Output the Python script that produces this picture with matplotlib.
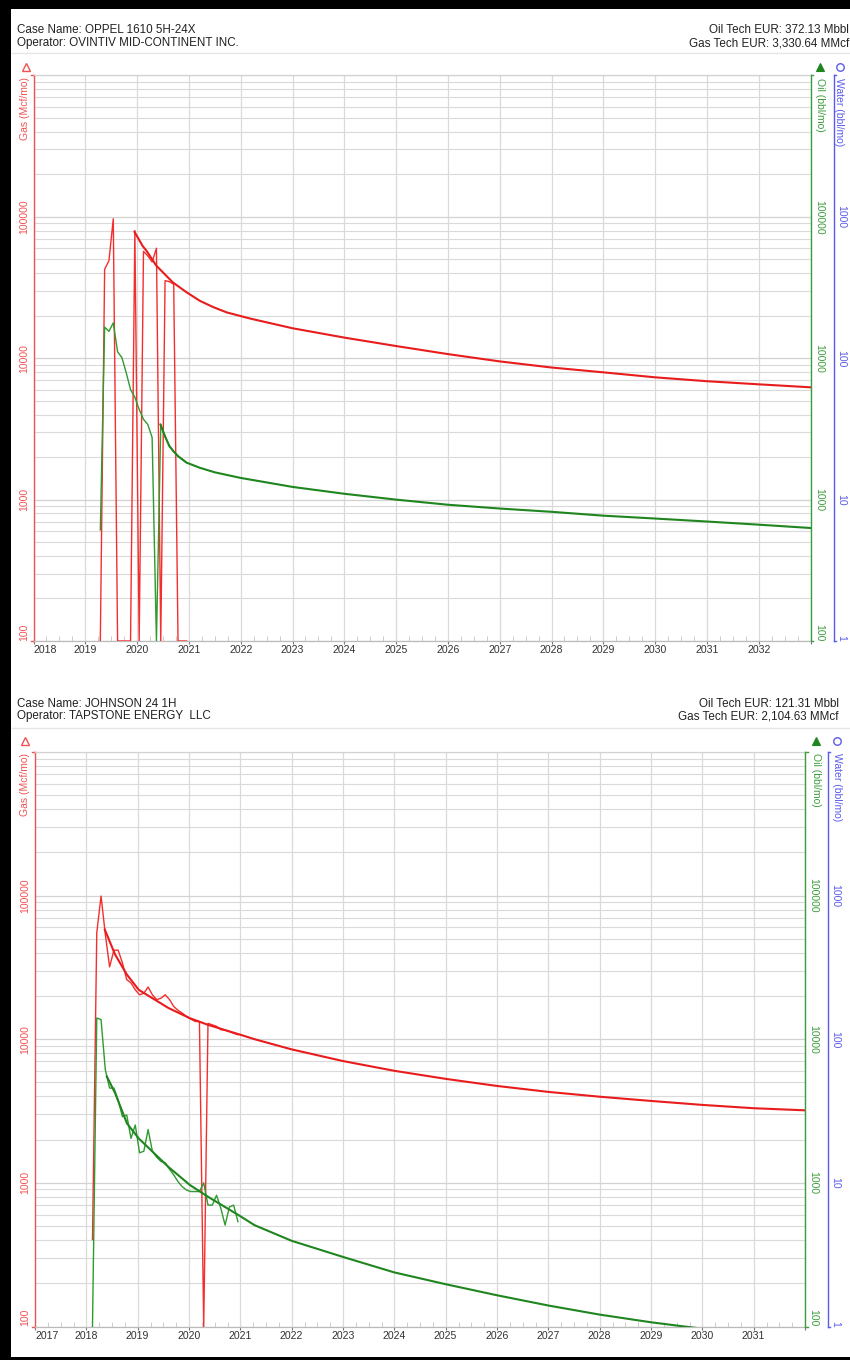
import numpy as np
import matplotlib
matplotlib.use("Agg")
import matplotlib.pyplot as plt
from matplotlib.lines import Line2D
from matplotlib.patches import Rectangle

plt.rcParams['font.family'] = ['Liberation Sans', 'DejaVu Sans']

W, H = 850, 1360

RED_H = '#f42e2e'
RED_F = '#e81c1c'
GREEN_H = '#2f9a2f'
GREEN_F = '#1f861f'
RED_AX = '#f05252'
GREEN_AX = '#3c9c3c'
BLUE_AX = '#5b5bea'
GRID = '#dadada'
TEXT = '#222222'

# ---------------- shared axis ticks ----------------
gas_ticks = [100, 1000, 10000, 100000, 1000000]
gas_labels = ['100', '1000', '10000', '100000', '']
oil_ticks = [100, 1000, 10000, 100000, 1000000]
oil_labels = ['100', '1000', '10000', '100000', '']
water_ticks = [1, 10, 100, 1000, 10000]
water_labels = ['1', '10', '100', '1000', '']

# ---------------- Chart 1 : OPPEL 1610 5H-24X ----------------
c1_header_left = ["Case Name: OPPEL 1610 5H-24X", "Operator: OVINTIV MID-CONTINENT INC."]
c1_header_right = ["Oil Tech EUR: 372.13 Mbbl", "Gas Tech EUR: 3,330.64 MMcf"]
c1_years = list(range(2018, 2034))
c1_hist_start = 2019.29
c1_gas_hist = [100, 42600, 49000, 97000, 100, 100, 100, 100, 80000, 100, 57000,
               53000, 48000, 60000, 100, 35400, 34800, 33400, 100, 100, 100]
c1_oil_hist = [610, 16600, 15500, 17800, 11100, 10100, 7900, 6000, 5300, 4350, 3700,
               3400, 2750, 100, 3400, 2800, 2400, 2200, 2030, 1930, 1830]
c1_gas_fc_t = [2019.95, 2020.11, 2020.18, 2020.37, 2020.69, 2020.96, 2021.21, 2021.47,
               2021.73, 2022.18, 2023, 2024, 2025, 2026, 2027, 2028, 2029, 2030, 2031,
               2032, 2033]
c1_gas_fc = [78300, 62000, 57700, 45200, 34400, 29200, 25500, 23000,
             21100, 19100, 16300, 14000, 12200, 10700, 9500, 8600, 7950, 7330, 6880,
             6540, 6230]
c1_oil_fc_t = [2020.45, 2020.54, 2020.62, 2020.70, 2020.79, 2020.95, 2021.21, 2021.5,
               2021.99, 2023, 2024, 2025, 2026, 2027, 2028, 2029, 2030, 2031, 2032, 2033]
c1_oil_fc = [3400, 2800, 2400, 2200, 2030, 1830, 1680, 1560,
             1426, 1230, 1100, 1000, 920, 865, 820, 770, 735, 700, 665, 630]

# ---------------- Chart 2 : JOHNSON 24 1H ----------------
c2_header_left = ["Case Name: JOHNSON 24 1H", "Operator: TAPSTONE ENERGY  LLC"]
c2_header_right = ["Oil Tech EUR: 121.31 Mbbl", "Gas Tech EUR: 2,104.63 MMcf"]
c2_years = list(range(2017, 2033))
c2_hist_start = 2018.12
c2_gas_hist = [403, 55100, 99300, 53700, 31900, 41700, 41700, 34000, 26000, 24660, 22100,
               20400, 20900, 23100, 20400, 18900, 19300, 20400, 18900, 16900, 15900, 15200,
               14400, 13800, 13300, 13300, 100, 12900, 12600, 12300, 11650, 11550, 11300,
               11000, 10750]
c2_oil_hist = [100, 14060, 13700, 6120, 4570, 4570, 3780, 2890, 2970, 2040, 2530,
               1620, 1660, 2350, 1660, 1510, 1410, 1380, 1245, 1135, 1020, 940,
               890, 870, 870, 870, 1000, 700, 700, 820, 665, 508, 680,
               700, 537]
c2_gas_fc_t = [2018.36, 2018.56, 2018.79, 2019.02, 2019.60, 2020.02, 2020.37, 2021.02, 2021.28,
               2022, 2023, 2024, 2025, 2026, 2027, 2028, 2029, 2030, 2031, 2032]
c2_gas_fc = [58000, 38900, 28200, 22100, 16500, 14000, 12600, 10700, 10000,
             8500, 7050, 6030, 5300, 4730, 4300, 3980, 3720, 3490, 3310, 3200]
c2_oil_fc_t = [2018.40, 2018.56, 2018.79, 2019.02, 2019.60, 2020.02, 2020.37, 2020.96, 2021.28,
               2022, 2023, 2024, 2025, 2026, 2027, 2028, 2029, 2029.65, 2030.5, 2032]
c2_oil_fc = [5500, 4220, 2600, 2040, 1290, 965, 800, 598, 507,
             395, 305, 238, 197, 165, 140, 121, 107, 100, 92, 82]


def fx(x):
    return x / W


def fy(y):
    return 1 - y / H


def style_labels(a, rot, ha):
    for lbl in a.get_yticklabels():
        lbl.set_rotation(rot)
        lbl.set_ha(ha)
        lbl.set_va('center')
    a.get_yticklabels()[0].set_va('bottom')


def draw_chart(fig, cfg):
    x0, y0, x1, y1 = cfg['box']
    pw, ph = x1 - x0, y1 - y0
    ax = fig.add_axes([fx(x0), fy(y1), pw / W, ph / H])
    ax2 = ax.twinx()
    ax3 = ax.twinx()

    # spines first (set_position resets tick labels)
    ax.spines['left'].set_color(RED_AX)
    ax.spines['left'].set_linewidth(1.0)
    ax.spines['bottom'].set_color('#bbbbbb')
    ax.spines['bottom'].set_linewidth(0.9)
    ax.spines['top'].set_color('#d2d2d2')
    ax.spines['top'].set_linewidth(0.9)
    ax.spines['right'].set_visible(False)
    for s in ('left', 'top', 'bottom'):
        ax2.spines[s].set_visible(False)
        ax3.spines[s].set_visible(False)
    ax2.spines['right'].set_color(GREEN_AX)
    ax2.spines['right'].set_linewidth(1.0)
    ax3.spines['right'].set_position(('outward', cfg['woff'] * 72 / 100))
    ax3.spines['right'].set_color(BLUE_AX)
    ax3.spines['right'].set_linewidth(1.0)

    # header
    for i, (tl, tr) in enumerate(zip(cfg['hl'], cfg['hr'])):
        fig.text(fx(17.3), fy(cfg['base'][i]), tl, fontsize=8.4, color=TEXT,
                 ha='left', va='baseline')
        fig.text(fx(cfg['rx']), fy(cfg['base'][i]), tr, fontsize=8.4, color=TEXT,
                 ha='right', va='baseline')
    fig.add_artist(Line2D([fx(12), fx(850)], [fy(cfg['sep'])] * 2, color='#e6e6e6', lw=1.0))

    years = cfg['years']
    t_hist = cfg['start'] + np.arange(len(cfg['gas_hist'])) / 12.0

    # scales
    for a in (ax, ax2, ax3):
        a.set_yscale('log')
    ax.set_xlim(years[0], years[-1])
    ax.set_ylim(gas_ticks[0], gas_ticks[-1])
    ax2.set_ylim(oil_ticks[0], oil_ticks[-1])
    ax3.set_ylim(water_ticks[0], water_ticks[-1])

    # x ticks & grid
    ax.set_xticks(years)
    ax.set_xticklabels([str(y) for y in years[:-1]] + [''])
    qtr = [y + q for y in years[:-1] for q in (0.25, 0.5, 0.75)]
    ax.set_xticks(qtr, minor=True)
    ax.grid(True, which='major', axis='x', color=GRID, lw=0.9)
    ax.tick_params(axis='x', which='major', direction='out', length=2.4, width=0.8,
                   color='#777777', labelsize=7.6, labelcolor='#333333', pad=0.5)
    ax.tick_params(axis='x', which='minor', direction='in', length=3.4, width=0.7,
                   color='#cccccc')
    ax.get_xticklabels()[0].set_ha('left')

    # gas axis
    ax.set_yticks(gas_ticks)
    ax.set_yticklabels(gas_labels)
    ax.yaxis.set_minor_locator(matplotlib.ticker.LogLocator(base=10, subs=np.arange(2, 10)))
    ax.yaxis.set_minor_formatter(matplotlib.ticker.NullFormatter())
    ax.grid(True, which='major', axis='y', color='#d2d2d2', lw=0.9)
    ax.grid(True, which='minor', axis='y', color=GRID, lw=0.8)
    ax.set_axisbelow(True)
    ax.tick_params(axis='y', which='both', length=0, labelsize=7.5,
                   labelcolor=RED_AX, pad=3.3)
    style_labels(ax, 90, 'right')

    # oil axis
    ax2.set_yticks(oil_ticks)
    ax2.set_yticklabels(oil_labels)
    ax2.yaxis.set_minor_formatter(matplotlib.ticker.NullFormatter())
    ax2.tick_params(axis='y', which='both', length=0, labelsize=7.5,
                    labelcolor=GREEN_AX, pad=2.4)
    style_labels(ax2, 270, 'left')

    # water axis
    ax3.set_yticks(water_ticks)
    ax3.set_yticklabels(water_labels)
    ax3.yaxis.set_minor_formatter(matplotlib.ticker.NullFormatter())
    ax3.tick_params(axis='y', which='both', length=0, labelsize=7.5,
                    labelcolor=BLUE_AX, pad=2.0)
    style_labels(ax3, 270, 'left')

    # small hooks at spine ends
    hk = 2.7 / pw
    wpos = 1 + cfg['woff'] / pw
    for yy in (0, 1):
        ax.plot([0, -hk], [yy, yy], transform=ax.transAxes, color=RED_AX, lw=1.0,
                clip_on=False)
        ax.plot([1, 1 + hk], [yy, yy], transform=ax.transAxes, color=GREEN_AX, lw=1.0,
                clip_on=False)
        ax.plot([wpos, wpos + hk], [yy, yy], transform=ax.transAxes, color=BLUE_AX,
                lw=1.0, clip_on=False)

    # data
    ax.plot(t_hist, cfg['gas_hist'], color=RED_H, lw=1.0, zorder=3)
    ax.plot(cfg['gas_fc_t'], cfg['gas_fc'], color=RED_F, lw=1.5, zorder=4)
    ax2.plot(t_hist, cfg['oil_hist'], color=GREEN_H, lw=1.0, zorder=3)
    ax2.plot(cfg['oil_fc_t'], cfg['oil_fc'], color=GREEN_F, lw=1.5, zorder=4)

    # axis labels and markers
    mx = cfg['mx']
    my = cfg['my']
    fig.add_artist(Line2D([fx(mx[0])], [fy(my)], marker='^', ms=5.2, mfc='none',
                          mec=RED_AX, mew=1.0, ls='none'))
    fig.add_artist(Line2D([fx(mx[1])], [fy(my)], marker='^', ms=5.2, mfc=GREEN_F,
                          mec=GREEN_F, mew=0.8, ls='none'))
    fig.add_artist(Line2D([fx(mx[2])], [fy(my)], marker='o', ms=5.4, mfc='none',
                          mec=BLUE_AX, mew=1.0, ls='none'))
    fig.text(fx(mx[0]), fy(cfg['lt']), 'Gas (Mcf/mo)', rotation=90, ha='center', va='top',
             fontsize=7.5, color=RED_AX)
    fig.text(fx(mx[1]), fy(cfg['lt']), 'Oil (bbl/mo)', rotation=270, ha='center', va='top',
             fontsize=7.5, color=GREEN_AX)
    fig.text(fx(mx[2]), fy(cfg['lt']), 'Water (bbl/mo)', rotation=270, ha='center', va='top',
             fontsize=7.5, color=BLUE_AX)
    return ax


fig = plt.figure(figsize=(W / 100, H / 100), dpi=100)
fig.patch.set_facecolor('white')

cfg1 = dict(box=(33.5, 75.5, 810.5, 641), hl=c1_header_left, hr=c1_header_right,
            base=(33.3, 46.0), rx=849, sep=53, years=c1_years, start=c1_hist_start,
            gas_hist=c1_gas_hist, oil_hist=c1_oil_hist, gas_fc_t=c1_gas_fc_t,
            gas_fc=c1_gas_fc, oil_fc_t=c1_oil_fc_t, oil_fc=c1_oil_fc, woff=23,
            mx=(25.5, 820, 839.5), my=67, lt=77.5)
cfg2 = dict(box=(35, 752, 805, 1326.5), hl=c2_header_left, hr=c2_header_right,
            base=(706.7, 719.5), rx=839, sep=728, years=c2_years, start=c2_hist_start,
            gas_hist=c2_gas_hist, oil_hist=c2_oil_hist, gas_fc_t=c2_gas_fc_t,
            gas_fc=c2_gas_fc, oil_fc_t=c2_oil_fc_t, oil_fc=c2_oil_fc, woff=22.7,
            mx=(24.5, 816, 837), my=741.5, lt=753)

draw_chart(fig, cfg1)
draw_chart(fig, cfg2)

# black frame (top, left, bottom)
fig.add_artist(Rectangle((0, fy(9)), 1, 9 / H, transform=fig.transFigure,
                         color='black', lw=0))
fig.add_artist(Rectangle((0, 0), fx(10.5), 1, transform=fig.transFigure,
                         color='black', lw=0))
fig.add_artist(Rectangle((0, 0), 1, 3 / H, transform=fig.transFigure,
                         color='black', lw=0))

fig.savefig('out.png', dpi=100)
